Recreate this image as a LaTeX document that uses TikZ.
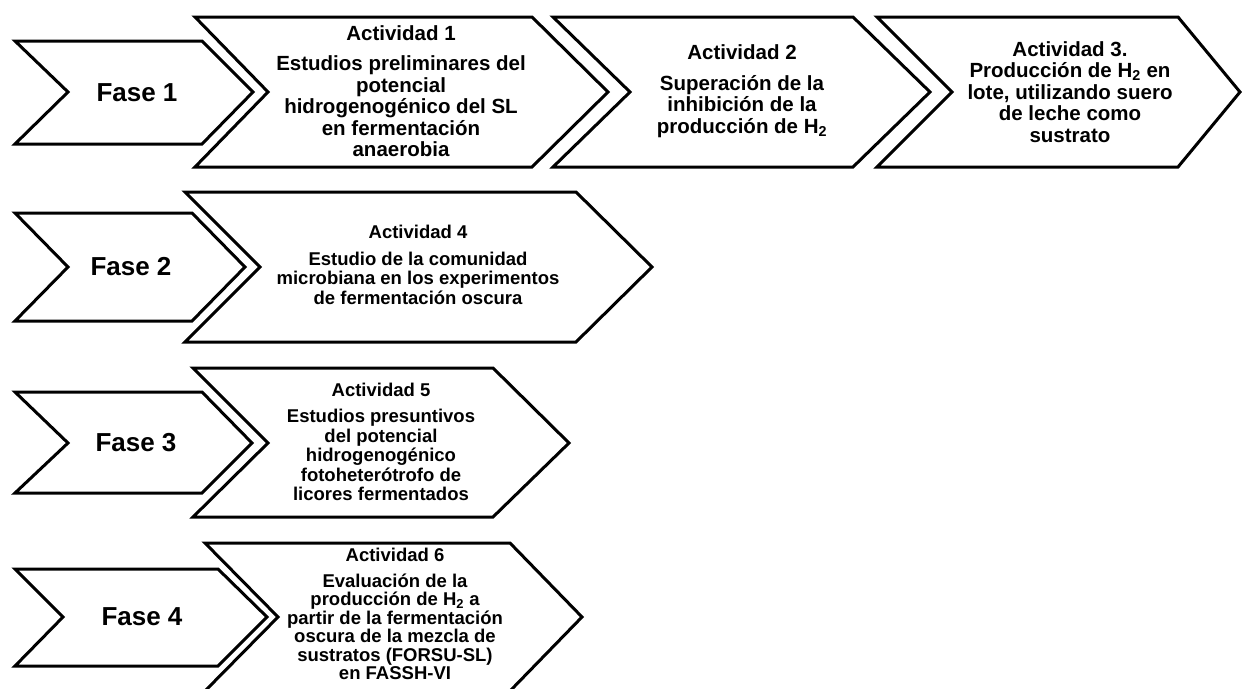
\documentclass[tikz,border=0pt]{standalone}
\usepackage{fontspec}
\setmainfont{Liberation Sans}

\begin{document}
\begin{tikzpicture}[x=1pt,y=-1pt,
  fleche/.style={draw=black, line width=3pt, fill=white, line join=miter},
  fase/.style={inner sep=0pt, font=\bfseries\fontsize{26}{28}\selectfont},
  etape/.style={inner sep=0pt, align=center, font=\bfseries\fontsize{20.5}{21.5}\selectfont},
  etapeb/.style={inner sep=0pt, align=center, font=\bfseries\fontsize{18.5}{19.5}\selectfont}]
\useasboundingbox (0,0) rectangle (1242,688);
\clip (0,0) rectangle (1242,688);

% Ligne 1 : la Fase 1 puis les trois actividades
\draw[fleche] (15,41) -- (202,41) -- (253,92) -- (202,144) -- (15,144) -- (68,92) -- cycle;
\draw[fleche] (195,17) -- (532,17) -- (608,92) -- (532,167) -- (195,167) -- (268,92) -- cycle;
\draw[fleche] (553,17) -- (853,17) -- (930,92) -- (853,167) -- (553,167) -- (630,92) -- cycle;
\draw[fleche] (877,17) -- (1178,17) -- (1240,92) -- (1178,167) -- (877,167) -- (952,92) -- cycle;
\node[fase] (f1) at (137,93) {Fase 1};
\node[etape] (a1) at (401,91) {Actividad 1\\[9pt] Estudios preliminares del\\ potencial\\ hidrogenogénico del SL\\ en fermentación\\ anaerobia};
\node[etape] (a2) at (742,91) {Actividad 2\\[9pt] Superación de la\\ inhibición de la\\ producción de H\textsubscript{2}};
\node[etape] (a3) at (1070,92) {Actividad 3.\\ Producción de H\textsubscript{2} en\\ lote, utilizando suero\\ de leche como\\ sustrato};

% Ligne 2 : Fase 2 et Actividad 4
\draw[fleche] (15,213) -- (192,213) -- (245,267) -- (192,321) -- (15,321) -- (68,267) -- cycle;
\draw[fleche] (185,192) -- (576,192) -- (652,267) -- (576,342) -- (185,342) -- (260,267) -- cycle;
\node[fase] (f2) at (131,267) {Fase 2};
\node[etapeb] (a4) at (418,265) {Actividad 4\\[7pt] Estudio de la comunidad\\ microbiana en los experimentos\\ de fermentación oscura};

% Ligne 3 : Fase 3 et Actividad 5
\draw[fleche] (15,392) -- (202,392) -- (252,443) -- (202,493) -- (15,493) -- (68,443) -- cycle;
\draw[fleche] (193,368) -- (493,368) -- (569,443) -- (493,517) -- (193,517) -- (268,443) -- cycle;
\node[fase] (f3) at (136,443) {Fase 3};
\node[etapeb] (a5) at (381,442) {Actividad 5\\[7pt] Estudios presuntivos\\ del potencial\\ hidrogenogénico\\ fotoheterótrofo de\\ licores fermentados};

% Ligne 4 : Fase 4 et Actividad 6 (coupée en bas)
\draw[fleche] (15,569) -- (218,569) -- (267,617) -- (218,666) -- (15,666) -- (63,617) -- cycle;
\draw[fleche] (205,543) -- (510,543) -- (582,617) -- (510,691) -- (205,691) -- (278,617) -- cycle;
\node[fase] (f4) at (142,617) {Fase 4};
\node[etapeb, font=\bfseries\fontsize{18.5}{18.5}\selectfont] (a6) at (395,614) {Actividad 6\\[7pt] Evaluación de la\\ producción de H\textsubscript{2} a\\ partir de la fermentación\\ oscura de la mezcla de\\ sustratos (FORSU-SL)\\ en FASSH-VI};
\end{tikzpicture}
\end{document}
